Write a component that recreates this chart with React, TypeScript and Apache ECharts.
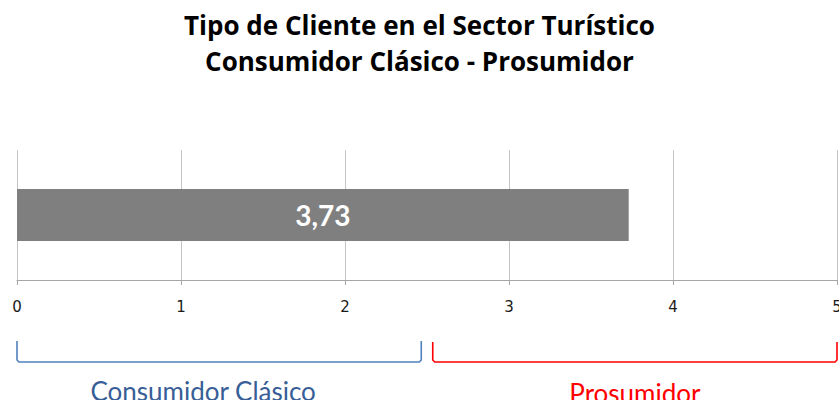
import React, { useEffect, useRef } from "react";
import * as echarts from "echarts";

const categories = ["Tipo de Cliente"];
const values = [3.73];
const axisMin = 0;
const axisMax = 5;
const axisInterval = 1;
const titleLines = ["Tipo de Cliente en el Sector Turístico", "Consumidor Clásico - Prosumidor"];
const bracketNames = ["Consumidor Clásico", "Prosumidor"];
const bracketRanges = [
  [0, 2.465],
  [2.535, 5],
];
const bracketColors = ["#4F81BD", "#FF0000"];
const bracketTextColors = ["#375E97", "#FF0000"];

export default function App() {
  const ref = useRef<HTMLDivElement>(null);
  useEffect(() => {
    document.body.style.margin = "0";
    if (!ref.current) return;
    const chart = echarts.init(ref.current, undefined, { renderer: "svg" });
    chart.setOption({
      animation: false,
      backgroundColor: "#ffffff",
      title: {
        text: titleLines.join("\n"),
        left: "center",
        top: 2,
        textStyle: {
          fontFamily: "Open Sans",
          fontWeight: "bold",
          fontSize: 26,
          lineHeight: 36,
          color: "#000000",
        },
      },
      grid: { left: 17, right: 2, top: 150, height: 130, containLabel: false, outerBoundsMode: "none" },
      xAxis: {
        type: "value",
        min: axisMin,
        max: axisMax,
        interval: axisInterval,
        axisLine: { show: true, lineStyle: { color: "#A6A6A6", width: 1 } },
        axisTick: { show: true, length: 5, lineStyle: { color: "#A6A6A6" } },
        splitLine: { show: true, lineStyle: { color: "#C4C4C4", width: 1 } },
        axisLabel: {
          margin: 19,
          fontFamily: "DejaVu Sans",
          fontSize: 15,
          color: "#1a1a1a",
          formatter: (v: number) => String(v),
        },
      },
      yAxis: {
        type: "category",
        data: categories,
        show: false,
      },
      series: [
        {
          type: "bar",
          data: values,
          barWidth: 52,
          itemStyle: { color: "#7F7F7F" },
          label: {
            show: true,
            position: "inside",
            fontFamily: "Lato",
            fontWeight: "bold",
            fontSize: 28,
            color: "#ffffff",
            formatter: (p: any) => String(p.value).replace(".", ","),
          },
        },
      ],
    });

    const graphics: any[] = [];
    const tops = [341, 342];
    const textY = [391, 393];
    const textShift = [-16, 0];
    bracketRanges.forEach((r, i) => {
      const x0 = chart.convertToPixel({ xAxisIndex: 0 }, r[0]) as number;
      const x1 = chart.convertToPixel({ xAxisIndex: 0 }, r[1]) as number;
      const yTop = tops[i];
      const yBot = 362;
      graphics.push({
        type: "polyline",
        shape: {
          points: [
            [x0, yTop],
            [x0, yBot - 2],
            [x0 + 2, yBot],
            [x1 - 2, yBot],
            [x1, yBot - 2],
            [x1, yTop],
          ],
        },
        style: { stroke: bracketColors[i], lineWidth: 1.6, fill: null },
      });
      graphics.push({
        type: "text",
        x: (x0 + x1) / 2 + textShift[i],
        y: textY[i],
        style: {
          text: bracketNames[i],
          fill: bracketTextColors[i],
          fontFamily: "Lato",
          fontSize: 26,
          align: "center",
          verticalAlign: "middle",
        },
      });
    });
    chart.setOption({ graphic: graphics });

    return () => chart.dispose();
  }, []);
  return <div ref={ref} style={{ width: 839, height: 400 }} />;
}
